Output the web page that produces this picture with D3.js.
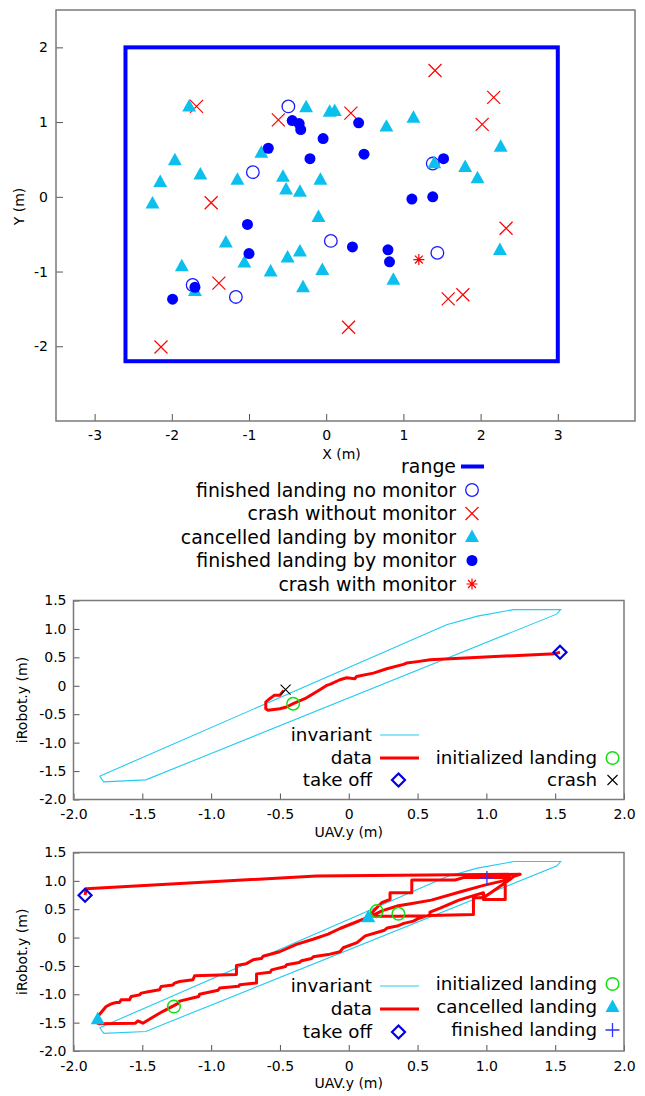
<!DOCTYPE html>
<html><head><meta charset="utf-8">
<script src="https://cdn.jsdelivr.net/npm/d3@7"></script>
<style>
body{margin:0;background:#fff}
svg{display:block}
text{font-family:"DejaVu Sans",sans-serif;fill:#000}
</style>
</head><body>
<svg id="c" width="645" height="1096"></svg>
<script>
// ---------------- DATA ----------------
// Top chart
const topXTicks = [-3, -2, -1, 0, 1, 2, 3];
const topYTicks = [-2, -1, 0, 1, 2];
const rangeCorners = [[-2.6, -2.2], [3.0, 2.0]];
const finishedNoMonitor = [[-0.49,1.21],[-0.95,0.33],[1.38,0.445],[0.06,-0.59],[1.44,-0.75],[-1.73,-1.18],[-1.17,-1.34]];
const crashWithoutMonitor = [[-1.68,1.21],[-0.62,1.03],[0.32,1.12],[1.41,1.69],[2.17,1.33],[2.02,0.97],[-1.49,-0.08],[2.33,-0.42],[-1.39,-1.155],[0.29,-1.745],[1.58,-1.365],[1.77,-1.31],[-2.14,-2.01]];
const cancelledByMonitor = [[-1.775,1.21],[-0.26,1.20],[0.045,1.14],[0.11,1.15],[0.78,0.94],[1.13,1.06],[-0.84,0.59],[-1.96,0.49],[-1.63,0.30],[-2.15,0.20],[-1.15,0.23],[-0.56,0.27],[-0.075,0.23],[-0.52,0.10],[-0.34,0.07],[-2.25,-0.09],[-0.10,-0.27],[1.40,0.45],[2.26,0.67],[1.80,0.40],[1.96,0.25],[-1.30,-0.61],[-0.34,-0.73],[-0.50,-0.81],[-1.06,-0.88],[-1.87,-0.93],[-0.72,-1.0],[-0.05,-0.98],[-1.70,-1.26],[-0.30,-1.21],[2.25,-0.71],[0.87,-1.11]];
const finishedByMonitor = [[-0.44,1.02],[-0.35,0.98],[-0.33,0.90],[-0.04,0.78],[-0.75,0.65],[-0.21,0.51],[0.42,0.99],[0.49,0.57],[1.52,0.51],[1.11,-0.03],[1.38,0.0],[-1.02,-0.37],[-1.00,-0.76],[0.34,-0.67],[0.80,-0.71],[0.82,-0.87],[-1.70,-1.21],[-1.99,-1.37]];
const crashWithMonitor = [[1.20,-0.84]];
const topLegendLabels = ["range","finished landing no monitor","crash without monitor","cancelled landing by monitor","finished landing by monitor","crash with monitor"];

// Lower charts
const uavTicks = [-2.0,-1.5,-1.0,-0.5,0,0.5,1.0,1.5,2.0];
const robotTicks = [-2.0,-1.5,-1.0,-0.5,0,0.5,1.0,1.5];
const invariant = [[-1.81,-1.59],[-1.78,-1.69],[-1.475,-1.655],[1.51,1.26],[1.54,1.34],[1.20,1.34],[0.935,1.225],[0.711,1.072],[-1.81,-1.59]];

const data1 = [[1.535,0.59],[1.50,0.565],[0.591,0.458],[0.50,0.425],[0.42,0.40],[0.397,0.376],[0.276,0.30],[0.179,0.223],[0.057,0.165],[0.045,0.124],[-0.015,0.141],[-0.064,0.106],[-0.137,0.024],[-0.161,0.007],[-0.21,-0.069],[-0.258,-0.139],[-0.319,-0.227],[-0.404,-0.315],[-0.452,-0.373],[-0.501,-0.403],[-0.586,-0.432],[-0.603,-0.403],[-0.603,-0.286],[-0.574,-0.227],[-0.542,-0.168],[-0.501,-0.168],[-0.472,-0.08]];
const takeOff1 = [[1.535,0.59]];
const initLanding1 = [[-0.404,-0.315]];
const crash1 = [[-0.459,-0.069]];

const data2 = [[-1.916,0.75],[-1.908,0.862],[-0.234,1.086],[1.246,1.116],[1.20,1.08],[1.174,1.03],[1.137,0.968],[1.137,0.673],[0.979,0.673],[0.979,0.791],
 [0.906,0.74],[0.80,0.66],[0.664,0.52],[0.59,0.45],[0.59,0.40],[0.50,0.33],[0.47,0.29],[0.40,0.25],[0.36,0.21],[0.28,0.17],[0.26,0.13],[0.12,0.03],[0.06,-0.09],[-0.04,-0.18],[-0.064,-0.25],[-0.15,-0.30],[-0.258,-0.34],[-0.27,-0.37],[-0.343,-0.41],[-0.36,-0.44],[-0.452,-0.48],[-0.46,-0.51],[-0.561,-0.57],[-0.57,-0.61],[-0.67,-0.64],[-0.67,-0.80],[-0.792,-0.83],[-0.80,-0.86],[-0.938,-0.89],[-0.95,-0.93],[-1.084,-1.0],[-1.09,-1.04],[-1.229,-1.12],[-1.24,-1.16],[-1.35,-1.30],[-1.40,-1.37],[-1.496,-1.51],[-1.532,-1.47],[-1.55,-1.51],[-1.812,-1.52],[-1.84,-1.49],
 [-1.824,-1.393],[-1.763,-1.216],[-1.726,-1.169],[-1.69,-1.145],[-1.666,-1.145],[-1.654,-1.098],[-1.593,-1.098],[-1.581,-1.039],[-1.52,-1.01],[-1.508,-0.98],[-1.448,-0.95],[-1.375,-0.921],[-1.363,-0.862],[-1.278,-0.835],[-1.266,-0.803],[-1.229,-0.774],[-1.132,-0.744],[-1.12,-0.673],[-0.816,-0.65],[-0.816,-0.49],[-0.744,-0.46],[-0.695,-0.39],[-0.635,-0.37],[-0.623,-0.33],[-0.502,-0.25],[-0.38,-0.12],[-0.26,-0.03],[-0.15,0.06],[-0.064,0.16],[0.05,0.27],[0.142,0.36],
 [0.179,0.466],[0.239,0.614],[0.30,0.673],[0.30,0.791],[0.458,0.791],[0.458,1.015],[0.773,1.015],[0.834,1.057],[1.174,1.057],[1.12,1.0],[0.98,0.92],[0.80,0.80],[0.60,0.66],[0.46,0.60],[0.36,0.56],[0.25,0.48],[0.18,0.40],[0.179,0.378],[0.361,0.378],[0.906,0.407],[0.906,0.702],[0.979,0.702],[1.137,0.968]];
const takeOff2 = [[-1.916,0.745]];
const initLanding2 = [[0.203,0.466],[0.361,0.419],[-1.27,-1.216]];
const cancelled2 = [[0.142,0.36],[-1.824,-1.44]];
const finished2 = [[1.004,1.05]];

// ---------------- DRAWING ----------------
const svg = d3.select("#c");
const FRAME = "#7a7a7a";
const C_BLUE = "#0000ff", C_RED = "#ff0000", C_CYAN = "#0cc0ee", C_INV = "#22ccf0", C_GREEN = "#10e010";

const sym = {
  cross: s => `M${-s},${-s}L${s},${s}M${-s},${s}L${s},${-s}`,
  plus: s => `M${-s},0L${s},0M0,${-s}L0,${s}`,
  star: s => `M${-s},0L${s},0M0,${-s}L0,${s}M${-s*0.72},${-s*0.72}L${s*0.72},${s*0.72}M${-s*0.72},${s*0.72}L${s*0.72},${-s*0.72}`,
  tri: s => `M0,${-s*0.62}L${s*0.58},${s*0.42}L${-s*0.58},${s*0.42}Z`,
  diamond: s => `M0,${-s}L${s},0L0,${s}L${-s},0Z`
};

function drawMarker(g, kind, cx, cy) {
  switch (kind) {
    case "openCircle": g.append("circle").attr("cx",cx).attr("cy",cy).attr("r",6.3).attr("fill","none").attr("stroke","#1a1aff").attr("stroke-width",1.3); break;
    case "cross": g.append("path").attr("d",sym.cross(6.5)).attr("transform",`translate(${cx},${cy})`).attr("stroke",C_RED).attr("stroke-width",1.2).attr("fill","none"); break;
    case "tri": g.append("path").attr("d",sym.tri(12)).attr("transform",`translate(${cx},${cy})`).attr("fill",C_CYAN); break;
    case "dot": g.append("circle").attr("cx",cx).attr("cy",cy).attr("r",5.5).attr("fill",C_BLUE); break;
    case "star": g.append("path").attr("d",sym.star(5.5)).attr("transform",`translate(${cx},${cy})`).attr("stroke",C_RED).attr("stroke-width",1.2).attr("fill","none"); break;
    case "diamond": g.append("path").attr("d",sym.diamond(6.5)).attr("transform",`translate(${cx},${cy})`).attr("stroke","#0000e0").attr("stroke-width",2.2).attr("fill","none"); break;
    case "green": g.append("circle").attr("cx",cx).attr("cy",cy).attr("r",6.3).attr("fill","none").attr("stroke",C_GREEN).attr("stroke-width",1.5); break;
    case "blackX": g.append("path").attr("d",sym.cross(5)).attr("transform",`translate(${cx},${cy})`).attr("stroke","#000").attr("stroke-width",1.1).attr("fill","none"); break;
    case "bluePlus": g.append("path").attr("d",sym.plus(7)).attr("transform",`translate(${cx},${cy})`).attr("stroke","#3030ff").attr("stroke-width",1.3).attr("fill","none"); break;
  }
}

function styleAxis(g) {
  g.select(".domain").remove();
  g.selectAll(".tick line").attr("stroke","#555").attr("stroke-width",1);
  g.selectAll(".tick text").style("font-family","DejaVu Sans").style("font-size","14px").attr("fill","#000");
}

// ===== Top chart =====
(function(){
  const L=56, R=635, T=10, B=421;
  const x = d3.scaleLinear().domain([-3.5,4]).range([L,R]);
  const y = d3.scaleLinear().domain([-3,2.5]).range([B,T]);
  const g = svg.append("g");
  g.append("g").attr("transform",`translate(0,${B})`)
    .call(d3.axisBottom(x).tickValues(topXTicks).tickSizeInner(-7).tickSizeOuter(0).tickPadding(9).tickFormat(d=>String(d)))
    .call(styleAxis);
  g.append("g").attr("transform",`translate(${L},0)`)
    .call(d3.axisLeft(y).tickValues(topYTicks).tickSizeInner(-7).tickSizeOuter(0).tickPadding(8).tickFormat(d=>String(d)))
    .call(styleAxis);
  g.append("rect").attr("x",L).attr("y",T).attr("width",R-L).attr("height",B-T).attr("fill","none").attr("stroke",FRAME).attr("stroke-width",1.5);
  // range
  g.append("rect")
    .attr("x",x(rangeCorners[0][0])).attr("y",y(rangeCorners[1][1]))
    .attr("width",x(rangeCorners[1][0])-x(rangeCorners[0][0]))
    .attr("height",y(rangeCorners[0][1])-y(rangeCorners[1][1]))
    .attr("fill","none").attr("stroke",C_BLUE).attr("stroke-width",4);
  finishedNoMonitor.forEach(d=>drawMarker(g,"openCircle",x(d[0]),y(d[1])));
  crashWithoutMonitor.forEach(d=>drawMarker(g,"cross",x(d[0]),y(d[1])));
  cancelledByMonitor.forEach(d=>drawMarker(g,"tri",x(d[0]),y(d[1])));
  finishedByMonitor.forEach(d=>drawMarker(g,"dot",x(d[0]),y(d[1])));
  crashWithMonitor.forEach(d=>drawMarker(g,"star",x(d[0]),y(d[1])));
  g.append("text").attr("x",(x(-3.5)+x(4))/2 - 4).attr("y",459).attr("text-anchor","middle").style("font-size","14px").text("X (m)");
  g.append("text").attr("transform",`translate(24,${(T+B)/2 - 9}) rotate(-90)`).attr("text-anchor","middle").style("font-size","14px").text("Y (m)");

  // legend
  const kinds = ["range","openCircle","cross","tri","dot","star"];
  const rows = [466.5,490,513.5,537,560.5,584];
  const lg = svg.append("g");
  topLegendLabels.forEach((lab,i)=>{
    lg.append("text").attr("x",456).attr("y",rows[i]).attr("dy","0.35em").attr("text-anchor","end").style("font-size","18.9px").text(lab);
    if (kinds[i]==="range") lg.append("line").attr("x1",461).attr("x2",484).attr("y1",rows[i]).attr("y2",rows[i]).attr("stroke",C_BLUE).attr("stroke-width",4);
    else drawMarker(lg,kinds[i],472,rows[i]);
  });
})();

// ===== Lower charts =====
function lowerChart(T, B, dataPath, markers, legendCol1, legendCol2, rows1, rows2) {
  const L=73.5, R=624;
  const x = d3.scaleLinear().domain([-2,2]).range([L,R]);
  const y = d3.scaleLinear().domain([-2,1.5]).range([B,T]);
  const fmt = d => d===0 ? "0" : d.toFixed(1);
  const g = svg.append("g");
  g.append("g").attr("transform",`translate(0,${B})`)
    .call(d3.axisBottom(x).tickValues(uavTicks).tickSizeInner(-6).tickSizeOuter(0).tickPadding(10).tickFormat(fmt))
    .call(styleAxis);
  g.append("g").attr("transform",`translate(${L},0)`)
    .call(d3.axisLeft(y).tickValues(robotTicks).tickSizeInner(-6).tickSizeOuter(0).tickPadding(7).tickFormat(fmt))
    .call(styleAxis);
  g.append("rect").attr("x",L).attr("y",T).attr("width",R-L).attr("height",B-T).attr("fill","none").attr("stroke",FRAME).attr("stroke-width",1.5);
  const line = d3.line().x(d=>x(d[0])).y(d=>y(d[1]));
  g.append("path").attr("d",line(invariant)).attr("fill","none").attr("stroke",C_INV).attr("stroke-width",1.1);
  g.append("path").attr("d",line(dataPath)).attr("fill","none").attr("stroke",C_RED).attr("stroke-width",3).attr("stroke-linejoin","round");
  markers.forEach(m => m.pts.forEach(d => drawMarker(g,m.kind,x(d[0]),y(d[1]))));
  g.append("text").attr("x",(L+R)/2).attr("y",B+37).attr("text-anchor","middle").style("font-size","14px").text("UAV.y (m)");
  g.append("text").attr("transform",`translate(27,${(T+B)/2}) rotate(-90)`).attr("text-anchor","middle").style("font-size","14px").text("iRobot.y (m)");
  // legend col 1
  legendCol1.forEach((e,i)=>{
    g.append("text").attr("x",372).attr("y",rows1[i]).attr("dy","0.35em").attr("text-anchor","end").style("font-size","18.3px").text(e.label);
    if (e.kind==="invLine") g.append("line").attr("x1",380).attr("x2",419).attr("y1",rows1[i]).attr("y2",rows1[i]).attr("stroke",C_INV).attr("stroke-width",1.1);
    else if (e.kind==="dataLine") g.append("line").attr("x1",380).attr("x2",419).attr("y1",rows1[i]).attr("y2",rows1[i]).attr("stroke",C_RED).attr("stroke-width",3);
    else drawMarker(g,e.kind,398.5,rows1[i]);
  });
  legendCol2.forEach((e,i)=>{
    g.append("text").attr("x",597).attr("y",rows2[i]).attr("dy","0.35em").attr("text-anchor","end").style("font-size","18.3px").text(e.label);
    drawMarker(g,e.kind,612.5,rows2[i]);
  });
}

lowerChart(600.5, 799.5, data1,
  [{kind:"diamond",pts:takeOff1},{kind:"green",pts:initLanding1},{kind:"blackX",pts:crash1}],
  [{label:"invariant",kind:"invLine"},{label:"data",kind:"dataLine"},{label:"take off",kind:"diamond"}],
  [{label:"initialized landing",kind:"green"},{label:"crash",kind:"blackX"}],
  [735,758,780],[758,780]);

lowerChart(852.5, 1051, data2,
  [{kind:"diamond",pts:takeOff2},{kind:"green",pts:initLanding2},{kind:"tri",pts:cancelled2},{kind:"bluePlus",pts:finished2}],
  [{label:"invariant",kind:"invLine"},{label:"data",kind:"dataLine"},{label:"take off",kind:"diamond"}],
  [{label:"initialized landing",kind:"green"},{label:"cancelled landing",kind:"tri"},{label:"finished landing",kind:"bluePlus"}],
  [986,1009,1032],[984,1007,1030]);
</script>
</body></html>
